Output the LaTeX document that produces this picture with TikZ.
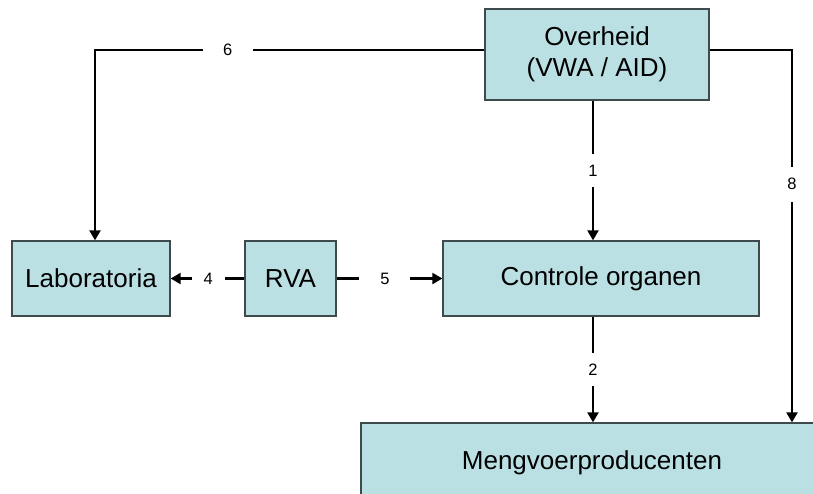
\documentclass[tikz,border=0pt]{standalone}
\usepackage{fontspec}
\setmainfont{Liberation Sans}
\usetikzlibrary{arrows.meta}
\definecolor{boxfill}{HTML}{BBE0E3}
\definecolor{boxline}{HTML}{3F4A4C}
\begin{document}
\begin{tikzpicture}[x=1pt,y=-1pt,
  box/.style={draw=boxline,line width=1.3pt,fill=boxfill,rectangle,inner sep=0pt,
    font=\fontsize{26}{31}\selectfont,align=center},
  conn/.style={line width=2.2pt,draw=black},
  arr/.style={conn,-{Triangle[length=10pt,width=11pt]}},
  lbl/.style={fill=white,inner sep=0pt,font=\fontsize{16.5}{18}\selectfont}
]
\useasboundingbox (0,0) rectangle (813,493);
\begin{scope}
\clip (0,0) rectangle (813,493);
\node[box,minimum width=462pt,minimum height=80pt] (mv) at (592,463) {Mengvoerproducenten};
\end{scope}
\node[box,minimum width=224pt,minimum height=91pt] (ov) at (597,54.5) {Overheid\\(VWA / AID)};
\node[box,minimum width=158pt,minimum height=75pt] (lab) at (91,278.5) {Laboratoria};
\node[box,minimum width=91pt,minimum height=75pt] (rva) at (290.5,278.5) {RVA};
\node[box,minimum width=316pt,minimum height=75pt] (ctl) at (601,278.5) {Controle organen};

\coordinate (c6) at (95,50);
\coordinate (c8) at (792,50);

% 6
\draw[arr] (ov.west |- c6) -- node[lbl,minimum width=50pt,minimum height=14pt,pos=0.659] {6} (c6) -- (c6 |- lab.north);
% 8
\draw[arr] (ov.east |- c8) -- (c8) -- node[lbl,minimum height=35pt,minimum width=12pt,pos=0.36] {8} (c8 |- mv.north);
% 1
\draw[arr] (593,0 |- ov.south) -- node[lbl,minimum height=33pt,minimum width=12pt] {1} (593,0 |- ctl.north);
% 2
\draw[arr] (593,0 |- ctl.south) -- node[lbl,minimum height=33pt,minimum width=12pt] {2} (593,0 |- mv.north);
% 4
\draw[arr] (rva.west) -- node[lbl,minimum width=33pt,minimum height=14pt,pos=0.49] {4} (lab.east);
% 5
\draw[arr] (rva.east) -- node[lbl,minimum width=51pt,minimum height=14pt,pos=0.456] {5} (ctl.west);
\end{tikzpicture}
\end{document}
